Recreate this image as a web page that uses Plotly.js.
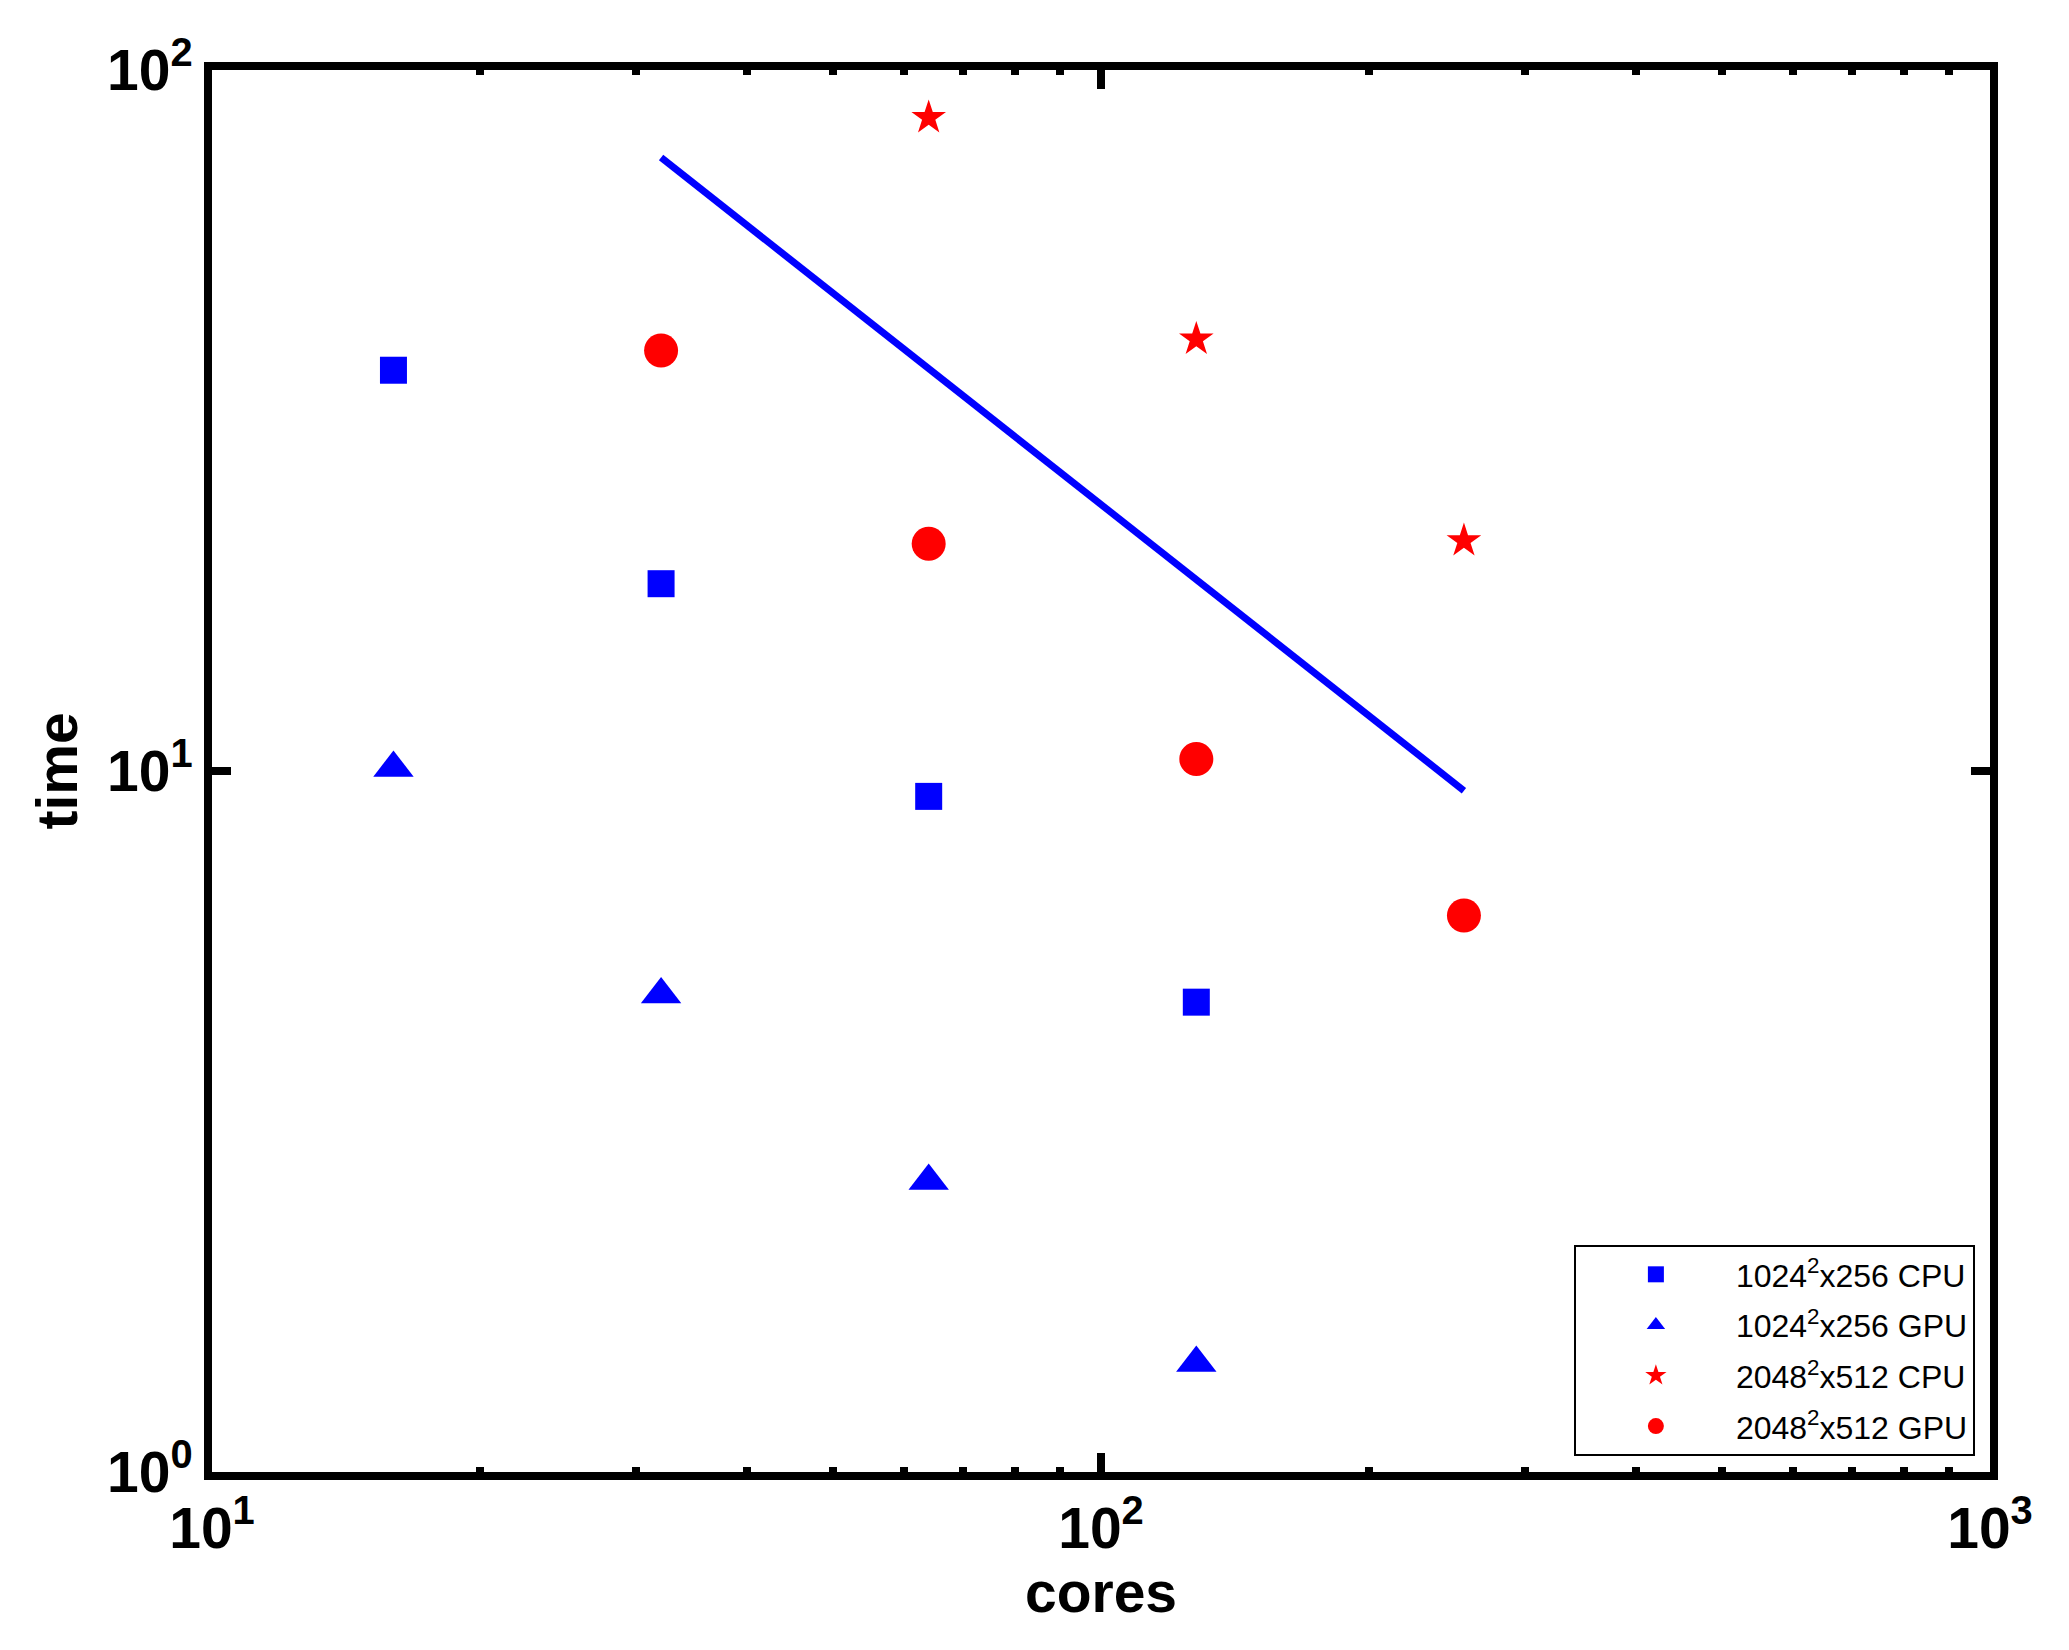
<!DOCTYPE html>
<html>
<head>
<meta charset="utf-8">
<script src="https://cdn.plot.ly/plotly-3.0.1.min.js"></script>
<style>html,body{margin:0;padding:0;background:#fff;}#chart{width:2069px;height:1650px;}</style>
</head>
<body>
<div id="chart"></div>
<script>
// ---- data ----
const coresSmall = [16, 32, 64, 128];
const cpu1024 = [37.3, 18.5, 9.2, 4.68];
const gpu1024 = [10.1, 4.8, 2.6, 1.43];
const coresLarge = [64, 128, 256];
const cpu2048 = [85.5, 41.3, 21.3];
const coresLargeGpu = [32, 64, 128, 256];
const gpu2048 = [39.8, 21.1, 10.4, 6.22];
const idealCores = [32, 256];
const idealTime = [75, 9.375];
const seriesNames = ['1024<sup>2</sup>x256 CPU', '1024<sup>2</sup>x256 GPU', '2048<sup>2</sup>x512 CPU', '2048<sup>2</sup>x512 GPU'];
const xTickVals = [10, 100, 1000];
const xTickText = ['10<sup>1</sup>', '10<sup>2</sup>', '10<sup>3</sup>'];
const yTickVals = [1, 10, 100];
const yTickText = ['10<sup>0</sup>', '10<sup>1</sup>', '10<sup>2</sup>'];
const xMinorVals = [20, 30, 40, 50, 60, 70, 80, 90, 200, 300, 400, 500, 600, 700, 800, 900];

const FONT = 'Liberation Sans, Arial, sans-serif';
const BLUE = '#0000ff', RED = '#ff0000';

const traces = [
  {x: idealCores, y: idealTime, mode: 'lines', line: {color: BLUE, width: 7}, showlegend: false, hoverinfo: 'skip', legendgroup: 'g0'},
  {x: coresSmall, y: cpu1024, mode: 'markers', name: seriesNames[0], legendgroup: 'g1', marker: {symbol: 'square', color: BLUE, size: 27}},
  {x: coresSmall, y: gpu1024, mode: 'markers', name: seriesNames[1], legendgroup: 'g2', marker: {symbol: 'triangle-up', color: BLUE, size: 35}},
  {x: coresLarge, y: cpu2048, mode: 'markers', name: seriesNames[2], legendgroup: 'g3', marker: {symbol: 'star', color: RED, size: 26}},
  {x: coresLargeGpu, y: gpu2048, mode: 'markers', name: seriesNames[3], legendgroup: 'g4', marker: {symbol: 'circle', color: RED, size: 34}}
];

const axisCommon = {
  type: 'log',
  showgrid: false,
  zeroline: false,
  showline: true,
  linecolor: '#000',
  linewidth: 8,
  mirror: 'ticks',
  ticks: 'inside',
  ticklen: 19,
  tickwidth: 8,
  tickcolor: '#000',
  tickmode: 'array',
  tickfont: {family: FONT, size: 57, color: '#000', weight: 'bold'}
};

const layout = {
  width: 2069, height: 1650,
  paper_bgcolor: '#fff', plot_bgcolor: '#fff',
  margin: {l: 212, r: 79, t: 70, b: 178},
  showlegend: true,
  xaxis: Object.assign({}, axisCommon, {
    range: [1, 3],
    tickvals: xTickVals, ticktext: xTickText,
    minor: {tickmode: 'array', tickvals: xMinorVals, ticks: 'inside', ticklen: 5, tickwidth: 8, tickcolor: '#000'},
    title: {text: 'cores', font: {family: FONT, size: 57, color: '#000', weight: 'bold'}, standoff: 12}
  }),
  yaxis: Object.assign({}, axisCommon, {
    range: [0, 2],
    tickvals: yTickVals, ticktext: yTickText,
    title: {text: 'time', font: {family: FONT, size: 57, color: '#000', weight: 'bold'}, standoff: 14}
  }),
  legend: {
    x: 0.9915, y: 0.0114, xanchor: 'right', yanchor: 'bottom',
    bgcolor: '#fff', bordercolor: '#000', borderwidth: 2,
    font: {family: FONT, size: 32, color: '#000'},
    itemwidth: 150,
    itemsizing: 'trace',
    traceorder: 'grouped',
    tracegroupgap: 6
  }
};

Plotly.newPlot('chart', traces, layout, {displayModeBar: false, staticPlot: true});
</script>
</body>
</html>
